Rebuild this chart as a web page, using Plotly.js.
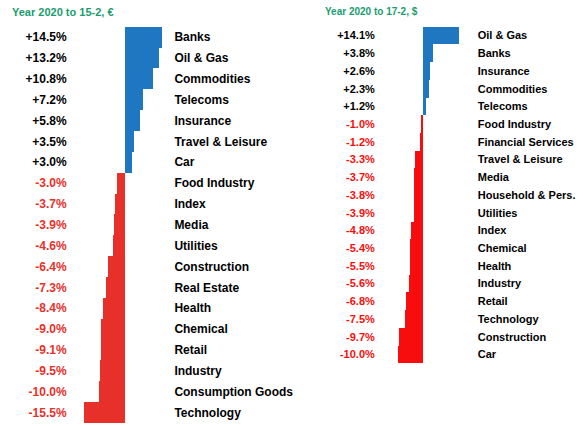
<!DOCTYPE html>
<html>
<head>
<meta charset="utf-8">
<script src="https://cdn.plot.ly/plotly-3.0.1.min.js"></script>
<style>html,body{margin:0;padding:0;background:#fff;}#chart{width:583px;height:426px;}</style>
</head>
<body>
<div id="chart"></div>
<script>
// ---- Data ----
const leftTitle = "Year 2020 to 15-2, €";
const leftCats = ["Banks","Oil & Gas","Commodities","Telecoms","Insurance","Travel & Leisure","Car",
  "Food Industry","Index","Media","Utilities","Construction","Real Estate","Health","Chemical",
  "Retail","Industry","Consumption Goods","Technology"];
const leftVals = [14.5,13.2,10.8,7.2,5.8,3.5,3.0,-3.0,-3.7,-3.9,-4.6,-6.4,-7.3,-8.4,-9.0,-9.1,-9.5,-10.0,-15.5];

const rightTitle = "Year 2020 to 17-2, $";
const rightCats = ["Oil & Gas","Banks","Insurance","Commodities","Telecoms","Food Industry",
  "Financial Services","Travel & Leisure","Media","Household & Pers.","Utilities","Index",
  "Chemical","Health","Industry","Retail","Technology","Construction","Car"];
const rightVals = [14.1,3.8,2.6,2.3,1.2,-1.0,-1.2,-3.3,-3.7,-3.8,-3.9,-4.8,-5.4,-5.5,-5.6,-6.8,-7.5,-9.7,-10.0];

// ---- Styles ----
const BLUE = "#1f77c2";
const RED_L = "#e8302a";
const RED_R = "#f70d0d";
const GREEN = "#1a9c6e";
const FONT = "Liberation Sans, Arial, sans-serif";

function fmt(v){ return (v > 0 ? "+" : "") + v.toFixed(1) + "%"; }
function valText(vals, red){
  return vals.map(v => '<span style="color:' + (v < 0 ? red : "#000") + '"><b>' + fmt(v) + '</b></span>');
}
function catText(cats){ return cats.map(c => "<b>" + c + "</b>"); }

const traces = [
  {type:"bar", orientation:"h", x:leftVals, y:leftCats, xaxis:"x", yaxis:"y",
   marker:{color:leftVals.map(v => v >= 0 ? BLUE : RED_L), line:{width:0}}, hoverinfo:"skip"},
  {type:"scatter", mode:"markers", x:leftVals, y:leftCats, xaxis:"x", yaxis:"y3",
   marker:{opacity:0, size:1}, hoverinfo:"skip"},
  {type:"bar", orientation:"h", x:rightVals, y:rightCats, xaxis:"x2", yaxis:"y2",
   marker:{color:rightVals.map(v => v >= 0 ? BLUE : RED_R), line:{width:0}}, hoverinfo:"skip"},
  {type:"scatter", mode:"markers", x:rightVals, y:rightCats, xaxis:"x2", yaxis:"y4",
   marker:{opacity:0, size:1}, hoverinfo:"skip"}
];

const hidX = {showgrid:false, zeroline:false, showline:false, showticklabels:false, ticks:"", fixedrange:true};
function catAxis(cats, extra){
  return Object.assign({type:"category", categoryorder:"array", categoryarray:cats,
    range:[cats.length - 0.5, -0.5], showgrid:false, zeroline:false, showline:false,
    ticks:"outside", tickcolor:"rgba(0,0,0,0)", tickvals:cats, fixedrange:true}, extra);
}

const layout = {
  width:583, height:426,
  margin:{l:0, r:0, t:0, b:0},
  paper_bgcolor:"#fff", plot_bgcolor:"rgba(0,0,0,0)",
  showlegend:false, bargap:0,
  font:{family:FONT, color:"#000"},
  xaxis:Object.assign({domain:[0.1424, 0.2806], range:[-16, 15], anchor:"y"}, hidX),
  yaxis:catAxis(leftCats, {domain:[0.00704, 0.9373], anchor:"x", side:"left",
    ticktext:valText(leftVals, RED_L), ticklen:13, tickfont:{size:12, family:FONT}}),
  yaxis3:catAxis(leftCats, {overlaying:"y", anchor:"free", position:0.283, side:"right",
    ticktext:catText(leftCats), ticklen:6, tickfont:{size:12, family:FONT, color:"#000"}}),
  xaxis2:Object.assign({domain:[0.681, 0.7882], range:[-10.5, 14.5], anchor:"y2"}, hidX),
  yaxis2:catAxis(rightCats, {domain:[0.1472, 0.9373], anchor:"x2", side:"left",
    ticktext:valText(rightVals, RED_R), ticklen:19, tickfont:{size:11, family:FONT}}),
  yaxis4:catAxis(rightCats, {overlaying:"y2", anchor:"free", position:0.7882, side:"right",
    ticktext:catText(rightCats), ticklen:15, tickfont:{size:11, family:FONT, color:"#000"}}),
  annotations:[
    {text:"<b>" + leftTitle + "</b>", xref:"paper", yref:"paper", x:10/583, y:1 - 12/426,
     xanchor:"left", yanchor:"middle", showarrow:false, font:{size:11, color:GREEN, family:FONT}},
    {text:"<b>" + rightTitle + "</b>", xref:"paper", yref:"paper", x:323/583, y:1 - 12/426,
     xanchor:"left", yanchor:"middle", showarrow:false, font:{size:10, color:GREEN, family:FONT}}
  ]
};

Plotly.newPlot("chart", traces, layout, {displayModeBar:false, staticPlot:true});
</script>
</body>
</html>
